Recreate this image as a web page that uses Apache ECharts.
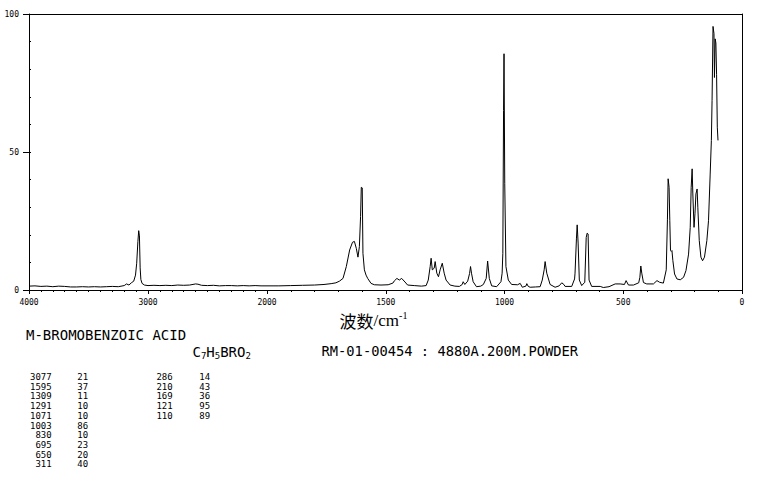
<!DOCTYPE html>
<html><head><meta charset="utf-8">
<script src="https://cdn.jsdelivr.net/npm/echarts@6/dist/echarts.min.js"></script>
<style>html,body{margin:0;padding:0;background:#fff}#c{width:765px;height:478px}</style>
</head><body><div id="c"></div>
<script>
// Raman spectrum: wavenumber (cm-1) and relative intensity
const wavenumbers = [
  4000,3950,3900,3850,3800,3750,3700,3650,3600,3550,3500,3450,3400,3350,3300,3250,3200,3180,3160,3140,3120,3105,3095,3085,3078,3072,3066,3060,3050,3030,3000,
  2950,2900,2850,2800,2750,2700,2650,2600,2580,2550,2500,2450,2400,2350,2300,2250,2200,2150,2100,2050,2000,
  1950,1900,1850,1800,1760,1730,1710,1695,1680,1666,1652,1640,1632,1624,1617,1611,1606,1603,1599,1596,1590,1583,1576,1562,1548,1520,1490,1470,1464,1453,1443,1433,1419,1408,1380,1350,1330,1321,1313,1309,1304,1296,1292,1285,1278,1271,1262,1254,1246,1229,1209,1190,1178,1174,1167,1155,1147,1143,1139,1132,1118,1100,1089,1077,1071,1064,1054,1033,1015,1010,1007,1004,1002,999,994,984,970,945,934,925,910,906,900,892,870,850,841,833,829,822,808,787,770,759,750,745,717,705,703,697,694,690,685,675,662,656,652,648,644,633,597,584,560,534,513,495,488,478,457,435,430,426,422,415,401,373,358,347,331,319,314,311,307,304,301,298,295,291,284,274,260,246,236,225,218,214,210,207,202,198,194,189,186,180,173,166,158,148,141,134,129,126,122,118,116,113,110,107,104,101
];
const intensities = [
  1.4,1.5,1.3,1.4,1.2,1.4,1.3,1.1,1.1,1.2,1.1,1.2,1.1,1.2,1.3,1.2,1.6,2.2,1.8,2.6,3.2,5.4,9.7,17.5,21.5,19.6,8,3.8,2.4,1.8,1.6,
  1.7,1.6,1.7,1.6,1.8,1.7,1.8,2.2,2.1,1.7,1.6,1.7,1.5,1.6,1.6,1.5,1.6,1.5,1.6,1.5,1.5,
  1.5,1.6,1.7,1.8,2.0,2.3,2.6,3.2,4.2,8.5,14.5,17.3,17.6,15.1,11.9,15.7,26.6,37.2,37,13.3,7.3,5.4,4.2,2.4,1.9,1.8,1.9,2.5,3.3,4.2,3.6,4.2,2.9,1.8,1.6,1.4,1.6,3.6,8.5,11.5,7.3,7.9,10.3,6.1,4.8,7.3,9.7,6.1,3.6,1.8,1.4,1.3,2.0,3.0,2.0,3.2,6.0,8.5,6.1,3.0,1.2,1.4,2.0,4.2,10.5,4.2,1.5,1.2,3.0,6.1,13.3,65,85.6,38.7,8.5,3.6,2.0,1.9,2.4,1.0,1.4,2.3,1.3,1.0,1.1,1.2,3.6,7.3,10.3,6.1,2.0,1.0,1.5,2.6,2.0,1.3,1.3,4.0,6.1,18.8,23.6,17,3.6,1.6,2.8,19,20.6,20.3,3.6,1.3,1.3,0.9,1.2,2.2,2.2,2.0,3.4,1.8,1.8,2.6,4.6,8.7,6.1,2.7,2.2,2.2,3.4,2.8,2.5,7.3,25.4,40.3,37.2,25.1,14.3,14,14.3,10.6,5.8,4.0,3.7,4.6,7,13,22.7,37.2,43.9,34.8,22.7,27.6,34.8,36.6,30,17.9,11.9,10.6,11.9,17.9,25.1,42,54.2,68.7,95.5,92.9,77,91,89.5,78,59,54.2
];
// Peak table printed below the chart
const peakWn  = [3077,1595,1309,1291,1071,1003,830,695,650,311,286,210,169,121,110];
const peakInt = [21,37,11,10,10,86,10,23,20,40,14,43,36,95,89];
const compoundName = 'M-BROMOBENZOIC ACID';
const sampleInfo = 'RM-01-00454 : 4880A.200M.POWDER';
const xTitle = '波数/cm';
const xTitleSup = '-1';

const pairs = wavenumbers.map((w, i) => [w, intensities[i]]);
const highPart = pairs.filter(p => p[0] >= 2000);
const lowPart = pairs.filter(p => p[0] <= 2000);

const BLK = '#000';
const plain = v => String(v);
const tickFont = {fontSize: 8, color: BLK, fontFamily: 'DejaVu Sans Mono', formatter: plain};
function bottomAxis(gi, min, max, interval, split, hideMin) {
  return {
    gridIndex: gi, type: 'value', min: min, max: max, interval: interval, inverse: true, position: 'bottom',
    axisLine: {show: true, onZero: false, lineStyle: {color: BLK, width: 1}},
    axisTick: {show: true, length: 4, lineStyle: {color: BLK, width: 1}},
    minorTick: {show: true, splitNumber: split, length: 2, lineStyle: {color: BLK, width: 1}},
    axisLabel: Object.assign({margin: 8, showMinLabel: !hideMin}, tickFont),
    splitLine: {show: false}, minorSplitLine: {show: false}
  };
}
function topAxis(gi, min, max) {
  return {
    gridIndex: gi, type: 'value', min: min, max: max, inverse: true, position: 'top',
    axisLine: {show: true, onZero: false, lineStyle: {color: BLK, width: 1}},
    axisTick: {show: false}, axisLabel: {show: false}, splitLine: {show: false}
  };
}

const graphics = [];
graphics.push({type: 'text', x: 26, y: 334.5, style: {text: compoundName, fill: BLK, font: '14px "DejaVu Sans Mono"', textAlign: 'left', textVerticalAlign: 'middle'}});
graphics.push({type: 'text', x: 192.5, y: 352, style: {
  text: '{m|C}{s|7}{m|H}{s|5}{m|BRO}{s|2}', textAlign: 'left', textVerticalAlign: 'middle',
  rich: {
    m: {fontSize: 14, fontFamily: 'DejaVu Sans Mono', lineHeight: 17, verticalAlign: 'middle', fill: BLK},
    s: {fontSize: 9, fontFamily: 'DejaVu Sans Mono', lineHeight: 9, verticalAlign: 'bottom', fill: BLK}
  }
}});
graphics.push({type: 'text', x: 321.5, y: 351.3, style: {text: sampleInfo, fill: BLK, font: '13.75px "DejaVu Sans Mono"', textAlign: 'left', textVerticalAlign: 'middle'}});
graphics.push({type: 'text', x: 373.5, y: 320, style: {
  text: '{cn|' + xTitle.slice(0, 2) + '}{en|' + xTitle.slice(2) + '}{sup|' + xTitleSup + '}', textAlign: 'center', textVerticalAlign: 'middle',
  rich: {
    cn: {fontSize: 17, fontFamily: '"Noto Sans CJK SC"', lineHeight: 20, verticalAlign: 'middle', fill: BLK},
    en: {fontSize: 17, fontFamily: '"Liberation Serif"', lineHeight: 20, verticalAlign: 'middle', fill: BLK},
    sup: {fontSize: 10, fontFamily: '"Liberation Serif"', lineHeight: 10, verticalAlign: 'top', fill: BLK}
  }
}});
const rowY0 = 377, rowStep = 9.72;
peakWn.forEach((w, i) => {
  const col = i < 10 ? 0 : 1;
  const row = col === 0 ? i : i - 10;
  const y = rowY0 + row * rowStep;
  graphics.push({type: 'text', x: col === 0 ? 51.7 : 172.7, y: y, style: {text: String(w), fill: BLK, font: '9px "DejaVu Sans Mono"', textAlign: 'right', textVerticalAlign: 'middle'}});
  graphics.push({type: 'text', x: col === 0 ? 77.3 : 199.3, y: y, style: {text: String(peakInt[i]), fill: BLK, font: '9px "DejaVu Sans Mono"', textAlign: 'left', textVerticalAlign: 'middle'}});
});

const chart = echarts.init(document.getElementById('c'), null, {renderer: 'svg', width: 765, height: 478});
chart.setOption({
  animation: false,
  backgroundColor: '#fff',
  grid: [
    {left: 29, top: 14, width: 238, height: 276, containLabel: false},
    {left: 267, top: 14, width: 475, height: 276, containLabel: false}
  ],
  xAxis: [
    bottomAxis(0, 2000, 4000, 1000, 10, true),
    bottomAxis(1, 0, 2000, 500, 5, false),
    topAxis(0, 2000, 4000),
    topAxis(1, 0, 2000)
  ],
  yAxis: [
    {gridIndex: 0, type: 'value', min: 0, max: 100, interval: 50, position: 'left',
     axisLine: {show: true, onZero: false, lineStyle: {color: BLK, width: 1}},
     axisTick: {show: true, length: 6, lineStyle: {color: BLK, width: 1}},
     axisLabel: Object.assign({margin: 10}, tickFont), splitLine: {show: false}},
    {gridIndex: 0, type: 'value', min: 0, max: 100, interval: 10, position: 'left',
     axisLine: {show: false, onZero: false}, axisTick: {show: true, inside: true, length: 2, lineStyle: {color: BLK, width: 1}},
     axisLabel: {show: false}, splitLine: {show: false}},
    {gridIndex: 1, type: 'value', min: 0, max: 100, interval: 50, position: 'right',
     axisLine: {show: true, onZero: false, lineStyle: {color: BLK, width: 1}},
     axisTick: {show: false}, axisLabel: {show: false}, splitLine: {show: false}}
  ],
  series: [
    {type: 'line', xAxisIndex: 0, yAxisIndex: 0, data: highPart, showSymbol: false, symbol: 'none',
     lineStyle: {color: BLK, width: 1}, silent: true},
    {type: 'line', xAxisIndex: 1, yAxisIndex: 2, data: lowPart, showSymbol: false, symbol: 'none',
     lineStyle: {color: BLK, width: 1}, silent: true}
  ],
  graphic: graphics
});
</script></body></html>
